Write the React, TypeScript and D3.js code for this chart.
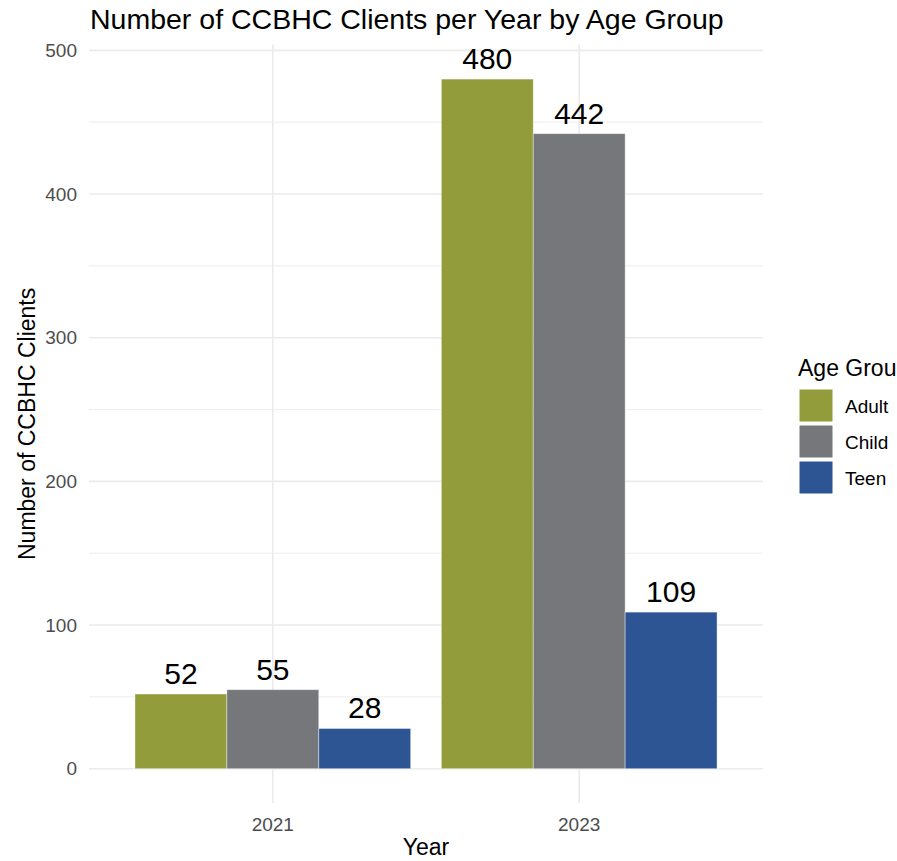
import React from 'react';
import * as d3 from 'd3';

const years = ['2021', '2023'];
const groups = ['Adult', 'Child', 'Teen'];
const adultValues = [52, 480];
const childValues = [55, 442];
const teenValues = [28, 109];
const groupColors = ['#939c3b', '#76777b', '#2e5593'];
const yTicks = [0, 100, 200, 300, 400, 500];
const yMinorTicks = [50, 150, 250, 350, 450];

const seriesValues = [adultValues, childValues, teenValues];

const W = 897;
const H = 861;
const font = '"Liberation Sans", Arial, sans-serif';

export default function App() {
  const panel = { left: 89, right: 763 };

  const x = d3.scalePoint<string>().domain(years).range([panel.left, panel.right]).padding(0.6);
  const step = x.step();
  const xInner = d3.scaleBand<string>().domain(groups).range([-0.45 * step, 0.45 * step]);

  const y = d3.scaleLinear().domain([-24, 504]).range([803.2, 44.6]);

  const bars = years.flatMap((yr, i) =>
    groups.map((g, j) => ({ year: yr, group: g, value: seriesValues[j][i], color: groupColors[j] }))
  );

  return (
    <div style={{ position: 'absolute', left: 0, top: 0 }}>
      <svg width={W} height={H} style={{ fontFamily: font, display: 'block', background: '#fff' }}>
        {/* grid */}
        {yMinorTicks.map(t => (
          <line key={'m' + t} x1={panel.left} x2={panel.right} y1={y(t)} y2={y(t)} stroke="#ebebeb" strokeWidth={0.9} />
        ))}
        {yTicks.map(t => (
          <line key={'g' + t} x1={panel.left} x2={panel.right} y1={y(t)} y2={y(t)} stroke="#ebebeb" strokeWidth={1.6} />
        ))}
        {years.map(yr => (
          <line key={'v' + yr} x1={x(yr)} x2={x(yr)} y1={y(504)} y2={y(-24)} stroke="#ebebeb" strokeWidth={1.6} />
        ))}

        {/* bars */}
        {bars.map(b => (
          <rect
            key={b.year + b.group}
            x={(x(b.year) || 0) + (xInner(b.group) || 0)}
            y={y(b.value)}
            width={xInner.bandwidth()}
            height={y(0) - y(b.value)}
            fill={b.color}
            stroke="#ffffff"
            strokeOpacity={0.5}
            strokeWidth={0.8}
          />
        ))}

        {/* value labels */}
        {bars.map(b => (
          <text
            key={'l' + b.year + b.group}
            x={(x(b.year) || 0) + (xInner(b.group) || 0) + xInner.bandwidth() / 2}
            y={y(b.value) - 10}
            textAnchor="middle"
            fontSize={30}
            fill="#000"
          >
            {b.value}
          </text>
        ))}

        {/* y tick labels */}
        {yTicks.map(t => (
          <text key={'yt' + t} x={77} y={y(t)} dy="0.35em" textAnchor="end" fontSize={19} fill="#4d4d4d">
            {t}
          </text>
        ))}

        {/* x tick labels */}
        {years.map(yr => (
          <text key={'xt' + yr} x={x(yr)} y={831} textAnchor="middle" fontSize={19} fill="#4d4d4d">
            {yr}
          </text>
        ))}

        {/* axis titles */}
        <text x={(panel.left + panel.right) / 2} y={855} textAnchor="middle" fontSize={23} fill="#000">
          Year
        </text>
        <text
          transform={`translate(35,${(y(-24) + y(504)) / 2}) rotate(-90)`}
          textAnchor="middle"
          fontSize={23}
          fill="#000"
        >
          Number of CCBHC Clients
        </text>

        {/* title */}
        <text x={90} y={29} fontSize={28.5} fill="#000">
          Number of CCBHC Clients per Year by Age Group
        </text>

        {/* legend (title runs off the right edge, as in the original) */}
        <text x={798} y={376} fontSize={23} fill="#000">
          Age Group
        </text>
        {groups.map((g, j) => (
          <g key={'lg' + g} transform={`translate(798,${388 + j * 36})`}>
            <rect x={1} y={1} width={34} height={33} fill={groupColors[j]} stroke="#ffffff" strokeWidth={1} />
            <text x={47} y={18} dy="0.35em" fontSize={19} fill="#000">
              {g}
            </text>
          </g>
        ))}
      </svg>
    </div>
  );
}
